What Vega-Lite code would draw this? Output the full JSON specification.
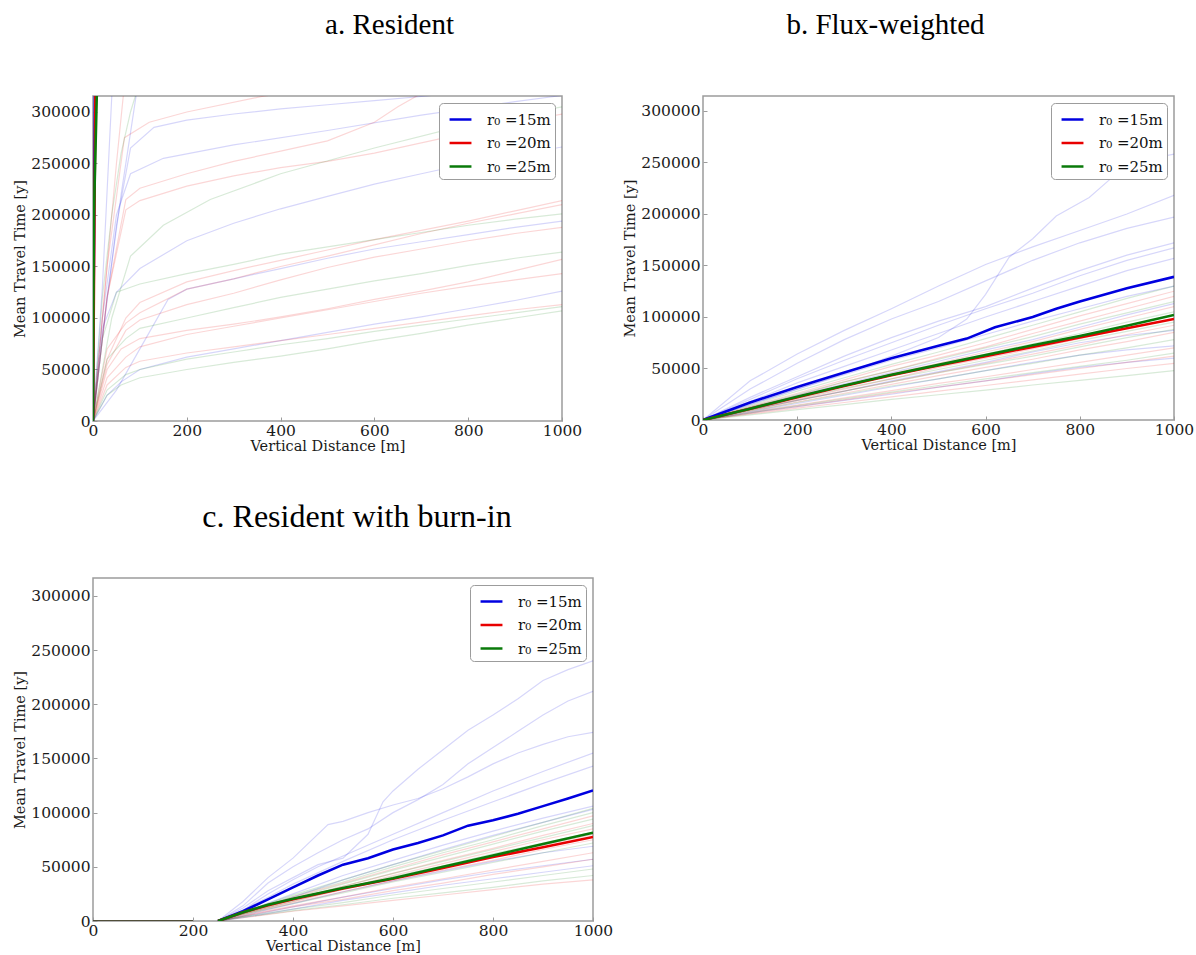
{
  "$schema": "https://vega.github.io/schema/vega-lite/v6.json",
  "background": "white",
  "padding": {"left": 12, "top": 10, "right": 4, "bottom": 5},
  "config": {
    "view": {"stroke": "#9c9c9c", "strokeWidth": 1.5},
    "font": "DejaVu Serif",
    "axis": {
      "grid": false, "domain": false, "ticks": true, "tickSize": -4, "tickColor": "#9c9c9c", "tickWidth": 1,
      "labelFont": "DejaVu Serif", "labelFontSize": 15.5, "labelColor": "#1a1a1a",
      "titleFont": "DejaVu Serif", "titleFontSize": 14.5, "titleFontWeight": "normal", "titleColor": "#1a1a1a",
      "labelFlush": false, "labelOverlap": false
    },
    "axisX": {"labelPadding": 6, "titlePadding": 1},
    "axisY": {"labelPadding": 7, "titlePadding": 3},
    "legend": {
      "orient": "top-right", "offset": 7,
      "symbolType": "stroke", "symbolSize": 480, "symbolStrokeWidth": 2.5, "symbolOpacity": 1, "symbolOffset": 5,
      "labelFont": "DejaVu Serif", "labelFontSize": 15, "labelColor": "#111111",
      "strokeColor": "#9c9c9c", "fillColor": "white", "padding": 4, "cornerRadius": 4,
      "rowPadding": 2.5, "labelOffset": 14
    },
    "title": {"font": "Liberation Serif", "fontWeight": "normal", "color": "#000000", "anchor": "middle", "frame": "group", "baseline": "alphabetic"}
  },
  "datasets": {
    "resident": [
      {"r":15,"i":0,"x":0,"t":0},{"r":15,"i":0,"x":1,"t":100000},{"r":15,"i":0,"x":2.5,"t":200000},{"r":15,"i":0,"x":4,"t":315000},{"r":15,"i":0,"x":8,"t":600000},
      {"r":20,"i":0,"x":0,"t":0},{"r":20,"i":0,"x":1.5,"t":100000},{"r":20,"i":0,"x":3,"t":200000},{"r":20,"i":0,"x":5,"t":315000},{"r":20,"i":0,"x":10,"t":600000},
      {"r":25,"i":0,"x":0,"t":0},{"r":25,"i":0,"x":0.7,"t":100000},{"r":25,"i":0,"x":2,"t":200000},{"r":25,"i":0,"x":8,"t":315000},{"r":25,"i":0,"x":15,"t":560000},

      {"r":15,"i":1,"x":0,"t":0},{"r":15,"i":1,"x":20,"t":130000},{"r":15,"i":1,"x":40,"t":315000},{"r":15,"i":1,"x":60,"t":480000},
      {"r":15,"i":2,"x":0,"t":0},{"r":15,"i":2,"x":30,"t":120000},{"r":15,"i":2,"x":60,"t":220000},{"r":15,"i":2,"x":90,"t":310000},{"r":15,"i":2,"x":120,"t":400000},
      {"r":15,"i":3,"x":0,"t":0},{"r":15,"i":3,"x":20,"t":80000},{"r":15,"i":3,"x":50,"t":190000},{"r":15,"i":3,"x":80,"t":265000},{"r":15,"i":3,"x":130,"t":285000},{"r":15,"i":3,"x":200,"t":292000},{"r":15,"i":3,"x":300,"t":298000},{"r":15,"i":3,"x":400,"t":303000},{"r":15,"i":3,"x":500,"t":307000},{"r":15,"i":3,"x":600,"t":311000},{"r":15,"i":3,"x":700,"t":315000},{"r":15,"i":3,"x":800,"t":320000},
      {"r":15,"i":4,"x":0,"t":0},{"r":15,"i":4,"x":20,"t":90000},{"r":15,"i":4,"x":50,"t":125000},{"r":15,"i":4,"x":100,"t":148000},{"r":15,"i":4,"x":200,"t":175000},{"r":15,"i":4,"x":300,"t":192000},{"r":15,"i":4,"x":400,"t":206000},{"r":15,"i":4,"x":500,"t":218000},{"r":15,"i":4,"x":600,"t":230000},{"r":15,"i":4,"x":700,"t":240000},{"r":15,"i":4,"x":800,"t":250000},{"r":15,"i":4,"x":900,"t":258000},{"r":15,"i":4,"x":1000,"t":266000},
      {"r":15,"i":5,"x":0,"t":0},{"r":15,"i":5,"x":50,"t":30000},{"r":15,"i":5,"x":100,"t":70000},{"r":15,"i":5,"x":160,"t":118000},{"r":15,"i":5,"x":200,"t":128000},{"r":15,"i":5,"x":300,"t":138000},{"r":15,"i":5,"x":400,"t":148000},{"r":15,"i":5,"x":500,"t":158000},{"r":15,"i":5,"x":600,"t":167000},{"r":15,"i":5,"x":700,"t":174000},{"r":15,"i":5,"x":800,"t":181000},{"r":15,"i":5,"x":900,"t":188000},{"r":15,"i":5,"x":1000,"t":194000},
      {"r":15,"i":6,"x":0,"t":0},{"r":15,"i":6,"x":30,"t":25000},{"r":15,"i":6,"x":60,"t":38000},{"r":15,"i":6,"x":100,"t":50000},{"r":15,"i":6,"x":200,"t":62000},{"r":15,"i":6,"x":300,"t":70000},{"r":15,"i":6,"x":400,"t":78000},{"r":15,"i":6,"x":500,"t":86000},{"r":15,"i":6,"x":600,"t":94000},{"r":15,"i":6,"x":700,"t":101000},{"r":15,"i":6,"x":800,"t":109000},{"r":15,"i":6,"x":900,"t":117000},{"r":15,"i":6,"x":1000,"t":126000},
      {"r":15,"i":7,"x":0,"t":0},{"r":15,"i":7,"x":20,"t":100000},{"r":15,"i":7,"x":50,"t":200000},{"r":15,"i":7,"x":80,"t":240000},{"r":15,"i":7,"x":150,"t":255000},{"r":15,"i":7,"x":300,"t":268000},{"r":15,"i":7,"x":500,"t":282000},{"r":15,"i":7,"x":700,"t":297000},{"r":15,"i":7,"x":900,"t":310000},{"r":15,"i":7,"x":1000,"t":316000},

      {"r":20,"i":1,"x":0,"t":0},{"r":20,"i":1,"x":20,"t":100000},{"r":20,"i":1,"x":50,"t":250000},{"r":20,"i":1,"x":70,"t":340000},
      {"r":20,"i":2,"x":0,"t":0},{"r":20,"i":2,"x":30,"t":150000},{"r":20,"i":2,"x":67,"t":275000},{"r":20,"i":2,"x":120,"t":290000},{"r":20,"i":2,"x":200,"t":300000},{"r":20,"i":2,"x":360,"t":315000},{"r":20,"i":2,"x":450,"t":322000},
      {"r":20,"i":3,"x":0,"t":0},{"r":20,"i":3,"x":30,"t":120000},{"r":20,"i":3,"x":70,"t":215000},{"r":20,"i":3,"x":100,"t":226000},{"r":20,"i":3,"x":200,"t":240000},{"r":20,"i":3,"x":300,"t":252000},{"r":20,"i":3,"x":400,"t":262000},{"r":20,"i":3,"x":500,"t":272000},{"r":20,"i":3,"x":600,"t":290000},{"r":20,"i":3,"x":650,"t":305000},{"r":20,"i":3,"x":700,"t":318000},
      {"r":20,"i":4,"x":0,"t":0},{"r":20,"i":4,"x":30,"t":120000},{"r":20,"i":4,"x":70,"t":205000},{"r":20,"i":4,"x":100,"t":214000},{"r":20,"i":4,"x":200,"t":228000},{"r":20,"i":4,"x":300,"t":238000},{"r":20,"i":4,"x":400,"t":246000},{"r":20,"i":4,"x":500,"t":252000},{"r":20,"i":4,"x":600,"t":260000},{"r":20,"i":4,"x":700,"t":270000},{"r":20,"i":4,"x":800,"t":280000},{"r":20,"i":4,"x":900,"t":290000},{"r":20,"i":4,"x":1000,"t":298000},
      {"r":20,"i":5,"x":0,"t":0},{"r":20,"i":5,"x":30,"t":60000},{"r":20,"i":5,"x":70,"t":100000},{"r":20,"i":5,"x":100,"t":115000},{"r":20,"i":5,"x":200,"t":135000},{"r":20,"i":5,"x":300,"t":146000},{"r":20,"i":5,"x":400,"t":156000},{"r":20,"i":5,"x":500,"t":166000},{"r":20,"i":5,"x":600,"t":176000},{"r":20,"i":5,"x":700,"t":185000},{"r":20,"i":5,"x":800,"t":194000},{"r":20,"i":5,"x":900,"t":204000},{"r":20,"i":5,"x":1000,"t":214000},
      {"r":20,"i":6,"x":0,"t":0},{"r":20,"i":6,"x":30,"t":70000},{"r":20,"i":6,"x":70,"t":95000},{"r":20,"i":6,"x":100,"t":105000},{"r":20,"i":6,"x":200,"t":128000},{"r":20,"i":6,"x":300,"t":138000},{"r":20,"i":6,"x":400,"t":150000},{"r":20,"i":6,"x":500,"t":160000},{"r":20,"i":6,"x":600,"t":171000},{"r":20,"i":6,"x":700,"t":182000},{"r":20,"i":6,"x":800,"t":192000},{"r":20,"i":6,"x":900,"t":201000},{"r":20,"i":6,"x":1000,"t":210000},
      {"r":20,"i":7,"x":0,"t":0},{"r":20,"i":7,"x":30,"t":55000},{"r":20,"i":7,"x":70,"t":88000},{"r":20,"i":7,"x":100,"t":98000},{"r":20,"i":7,"x":200,"t":113000},{"r":20,"i":7,"x":300,"t":124000},{"r":20,"i":7,"x":400,"t":137000},{"r":20,"i":7,"x":500,"t":149000},{"r":20,"i":7,"x":600,"t":159000},{"r":20,"i":7,"x":700,"t":167000},{"r":20,"i":7,"x":800,"t":175000},{"r":20,"i":7,"x":900,"t":182000},{"r":20,"i":7,"x":1000,"t":188000},
      {"r":20,"i":8,"x":0,"t":0},{"r":20,"i":8,"x":30,"t":50000},{"r":20,"i":8,"x":60,"t":70000},{"r":20,"i":8,"x":100,"t":80000},{"r":20,"i":8,"x":200,"t":88000},{"r":20,"i":8,"x":300,"t":94000},{"r":20,"i":8,"x":400,"t":101000},{"r":20,"i":8,"x":500,"t":109000},{"r":20,"i":8,"x":600,"t":118000},{"r":20,"i":8,"x":700,"t":126000},{"r":20,"i":8,"x":800,"t":135000},{"r":20,"i":8,"x":900,"t":146000},{"r":20,"i":8,"x":1000,"t":157000},
      {"r":20,"i":9,"x":0,"t":0},{"r":20,"i":9,"x":30,"t":42000},{"r":20,"i":9,"x":70,"t":62000},{"r":20,"i":9,"x":100,"t":72000},{"r":20,"i":9,"x":200,"t":84000},{"r":20,"i":9,"x":300,"t":92000},{"r":20,"i":9,"x":400,"t":100000},{"r":20,"i":9,"x":500,"t":108000},{"r":20,"i":9,"x":600,"t":116000},{"r":20,"i":9,"x":700,"t":124000},{"r":20,"i":9,"x":800,"t":131000},{"r":20,"i":9,"x":900,"t":137000},{"r":20,"i":9,"x":1000,"t":143000},
      {"r":20,"i":10,"x":0,"t":0},{"r":20,"i":10,"x":30,"t":35000},{"r":20,"i":10,"x":70,"t":52000},{"r":20,"i":10,"x":100,"t":58000},{"r":20,"i":10,"x":200,"t":66000},{"r":20,"i":10,"x":300,"t":72000},{"r":20,"i":10,"x":400,"t":78000},{"r":20,"i":10,"x":500,"t":84000},{"r":20,"i":10,"x":600,"t":90000},{"r":20,"i":10,"x":700,"t":96000},{"r":20,"i":10,"x":800,"t":102000},{"r":20,"i":10,"x":900,"t":108000},{"r":20,"i":10,"x":1000,"t":113000},

      {"r":25,"i":1,"x":0,"t":0},{"r":25,"i":1,"x":20,"t":80000},{"r":25,"i":1,"x":50,"t":125000},{"r":25,"i":1,"x":100,"t":133000},{"r":25,"i":1,"x":200,"t":143000},{"r":25,"i":1,"x":300,"t":152000},{"r":25,"i":1,"x":400,"t":162000},{"r":25,"i":1,"x":500,"t":169000},{"r":25,"i":1,"x":600,"t":176000},{"r":25,"i":1,"x":700,"t":183000},{"r":25,"i":1,"x":800,"t":190000},{"r":25,"i":1,"x":900,"t":196000},{"r":25,"i":1,"x":1000,"t":201000},
      {"r":25,"i":2,"x":0,"t":0},{"r":25,"i":2,"x":30,"t":60000},{"r":25,"i":2,"x":70,"t":80000},{"r":25,"i":2,"x":100,"t":90000},{"r":25,"i":2,"x":200,"t":100000},{"r":25,"i":2,"x":300,"t":110000},{"r":25,"i":2,"x":400,"t":120000},{"r":25,"i":2,"x":500,"t":128000},{"r":25,"i":2,"x":600,"t":136000},{"r":25,"i":2,"x":700,"t":143000},{"r":25,"i":2,"x":800,"t":151000},{"r":25,"i":2,"x":900,"t":158000},{"r":25,"i":2,"x":1000,"t":164000},
      {"r":25,"i":3,"x":0,"t":0},{"r":25,"i":3,"x":30,"t":25000},{"r":25,"i":3,"x":60,"t":35000},{"r":25,"i":3,"x":100,"t":42000},{"r":25,"i":3,"x":200,"t":50000},{"r":25,"i":3,"x":300,"t":57000},{"r":25,"i":3,"x":400,"t":63000},{"r":25,"i":3,"x":500,"t":70000},{"r":25,"i":3,"x":600,"t":78000},{"r":25,"i":3,"x":700,"t":85000},{"r":25,"i":3,"x":800,"t":93000},{"r":25,"i":3,"x":900,"t":100000},{"r":25,"i":3,"x":1000,"t":107000},
      {"r":25,"i":4,"x":0,"t":0},{"r":25,"i":4,"x":30,"t":30000},{"r":25,"i":4,"x":70,"t":45000},{"r":25,"i":4,"x":100,"t":50000},{"r":25,"i":4,"x":200,"t":60000},{"r":25,"i":4,"x":300,"t":67000},{"r":25,"i":4,"x":400,"t":74000},{"r":25,"i":4,"x":500,"t":80000},{"r":25,"i":4,"x":600,"t":87000},{"r":25,"i":4,"x":700,"t":93000},{"r":25,"i":4,"x":800,"t":99000},{"r":25,"i":4,"x":900,"t":105000},{"r":25,"i":4,"x":1000,"t":111000},
      {"r":25,"i":5,"x":0,"t":0},{"r":25,"i":5,"x":20,"t":120000},{"r":25,"i":5,"x":40,"t":200000},{"r":25,"i":5,"x":60,"t":260000},{"r":25,"i":5,"x":80,"t":300000},{"r":25,"i":5,"x":100,"t":330000},
      {"r":25,"i":6,"x":0,"t":0},{"r":25,"i":6,"x":40,"t":100000},{"r":25,"i":6,"x":80,"t":160000},{"r":25,"i":6,"x":150,"t":190000},{"r":25,"i":6,"x":250,"t":215000},{"r":25,"i":6,"x":400,"t":240000},{"r":25,"i":6,"x":600,"t":265000},{"r":25,"i":6,"x":800,"t":288000},{"r":25,"i":6,"x":1000,"t":305000}
    ],
    "flux": [
      {"r":15,"i":0,"x":0,"t":0},{"r":15,"i":0,"x":100,"t":17000},{"r":15,"i":0,"x":200,"t":32000},{"r":15,"i":0,"x":300,"t":46000},{"r":15,"i":0,"x":400,"t":60000},{"r":15,"i":0,"x":500,"t":72000},{"r":15,"i":0,"x":560,"t":79000},{"r":15,"i":0,"x":620,"t":90000},{"r":15,"i":0,"x":700,"t":100000},{"r":15,"i":0,"x":750,"t":108000},{"r":15,"i":0,"x":800,"t":115000},{"r":15,"i":0,"x":900,"t":128000},{"r":15,"i":0,"x":1000,"t":139000},
      {"r":20,"i":0,"x":0,"t":0},{"r":20,"i":0,"x":100,"t":11000},{"r":20,"i":0,"x":200,"t":22000},{"r":20,"i":0,"x":300,"t":33000},{"r":20,"i":0,"x":400,"t":43500},{"r":20,"i":0,"x":500,"t":53000},{"r":20,"i":0,"x":600,"t":62000},{"r":20,"i":0,"x":700,"t":71000},{"r":20,"i":0,"x":800,"t":80000},{"r":20,"i":0,"x":900,"t":89000},{"r":20,"i":0,"x":1000,"t":98000},
      {"r":25,"i":0,"x":0,"t":0},{"r":25,"i":0,"x":100,"t":11000},{"r":25,"i":0,"x":200,"t":22500},{"r":25,"i":0,"x":300,"t":33500},{"r":25,"i":0,"x":400,"t":44000},{"r":25,"i":0,"x":500,"t":53500},{"r":25,"i":0,"x":600,"t":63000},{"r":25,"i":0,"x":700,"t":72500},{"r":25,"i":0,"x":800,"t":81500},{"r":25,"i":0,"x":900,"t":91500},{"r":25,"i":0,"x":1000,"t":102000},

      {"r":15,"i":1,"x":0,"t":0},{"r":15,"i":1,"x":100,"t":15000},{"r":15,"i":1,"x":200,"t":30000},{"r":15,"i":1,"x":300,"t":45000},{"r":15,"i":1,"x":400,"t":62000},{"r":15,"i":1,"x":500,"t":80000},{"r":15,"i":1,"x":560,"t":98000},{"r":15,"i":1,"x":600,"t":122000},{"r":15,"i":1,"x":650,"t":158000},{"r":15,"i":1,"x":700,"t":176000},{"r":15,"i":1,"x":750,"t":198000},{"r":15,"i":1,"x":820,"t":216000},{"r":15,"i":1,"x":870,"t":236000},{"r":15,"i":1,"x":900,"t":249000},{"r":15,"i":1,"x":1000,"t":258000},
      {"r":15,"i":2,"x":0,"t":0},{"r":15,"i":2,"x":100,"t":38000},{"r":15,"i":2,"x":200,"t":64000},{"r":15,"i":2,"x":300,"t":87000},{"r":15,"i":2,"x":400,"t":108000},{"r":15,"i":2,"x":500,"t":130000},{"r":15,"i":2,"x":600,"t":151000},{"r":15,"i":2,"x":700,"t":168000},{"r":15,"i":2,"x":800,"t":184000},{"r":15,"i":2,"x":900,"t":200000},{"r":15,"i":2,"x":1000,"t":218000},
      {"r":15,"i":3,"x":0,"t":0},{"r":15,"i":3,"x":100,"t":30000},{"r":15,"i":3,"x":200,"t":55000},{"r":15,"i":3,"x":300,"t":78000},{"r":15,"i":3,"x":400,"t":98000},{"r":15,"i":3,"x":500,"t":115000},{"r":15,"i":3,"x":600,"t":135000},{"r":15,"i":3,"x":700,"t":155000},{"r":15,"i":3,"x":800,"t":172000},{"r":15,"i":3,"x":900,"t":186000},{"r":15,"i":3,"x":1000,"t":197000},
      {"r":15,"i":4,"x":0,"t":0},{"r":15,"i":4,"x":100,"t":22000},{"r":15,"i":4,"x":200,"t":42000},{"r":15,"i":4,"x":300,"t":62000},{"r":15,"i":4,"x":400,"t":80000},{"r":15,"i":4,"x":500,"t":96000},{"r":15,"i":4,"x":600,"t":110000},{"r":15,"i":4,"x":700,"t":128000},{"r":15,"i":4,"x":800,"t":145000},{"r":15,"i":4,"x":900,"t":160000},{"r":15,"i":4,"x":1000,"t":172000},
      {"r":15,"i":5,"x":0,"t":0},{"r":15,"i":5,"x":100,"t":20000},{"r":15,"i":5,"x":200,"t":40000},{"r":15,"i":5,"x":300,"t":58000},{"r":15,"i":5,"x":400,"t":75000},{"r":15,"i":5,"x":500,"t":92000},{"r":15,"i":5,"x":600,"t":108000},{"r":15,"i":5,"x":700,"t":123000},{"r":15,"i":5,"x":800,"t":140000},{"r":15,"i":5,"x":900,"t":155000},{"r":15,"i":5,"x":1000,"t":167000},
      {"r":15,"i":6,"x":0,"t":0},{"r":15,"i":6,"x":100,"t":18000},{"r":15,"i":6,"x":200,"t":36000},{"r":15,"i":6,"x":300,"t":52000},{"r":15,"i":6,"x":400,"t":68000},{"r":15,"i":6,"x":500,"t":84000},{"r":15,"i":6,"x":600,"t":100000},{"r":15,"i":6,"x":700,"t":115000},{"r":15,"i":6,"x":800,"t":130000},{"r":15,"i":6,"x":900,"t":145000},{"r":15,"i":6,"x":1000,"t":157000},
      {"r":15,"i":7,"x":0,"t":0},{"r":15,"i":7,"x":100,"t":15000},{"r":15,"i":7,"x":200,"t":30000},{"r":15,"i":7,"x":300,"t":44000},{"r":15,"i":7,"x":400,"t":58000},{"r":15,"i":7,"x":500,"t":70000},{"r":15,"i":7,"x":600,"t":83000},{"r":15,"i":7,"x":700,"t":96000},{"r":15,"i":7,"x":800,"t":108000},{"r":15,"i":7,"x":900,"t":120000},{"r":15,"i":7,"x":1000,"t":130000},
      {"r":15,"i":8,"x":0,"t":0},{"r":15,"i":8,"x":100,"t":12000},{"r":15,"i":8,"x":200,"t":24000},{"r":15,"i":8,"x":300,"t":35000},{"r":15,"i":8,"x":400,"t":46000},{"r":15,"i":8,"x":500,"t":57000},{"r":15,"i":8,"x":600,"t":68000},{"r":15,"i":8,"x":700,"t":78000},{"r":15,"i":8,"x":800,"t":90000},{"r":15,"i":8,"x":900,"t":102000},{"r":15,"i":8,"x":1000,"t":113000},
      {"r":15,"i":9,"x":0,"t":0},{"r":15,"i":9,"x":100,"t":10000},{"r":15,"i":9,"x":200,"t":19000},{"r":15,"i":9,"x":300,"t":28000},{"r":15,"i":9,"x":400,"t":38000},{"r":15,"i":9,"x":500,"t":47000},{"r":15,"i":9,"x":600,"t":56000},{"r":15,"i":9,"x":700,"t":66000},{"r":15,"i":9,"x":800,"t":75000},{"r":15,"i":9,"x":900,"t":82000},{"r":15,"i":9,"x":1000,"t":87000},
      {"r":15,"i":10,"x":0,"t":0},{"r":15,"i":10,"x":100,"t":8000},{"r":15,"i":10,"x":200,"t":16000},{"r":15,"i":10,"x":300,"t":24000},{"r":15,"i":10,"x":400,"t":32000},{"r":15,"i":10,"x":500,"t":40000},{"r":15,"i":10,"x":600,"t":48000},{"r":15,"i":10,"x":700,"t":56000},{"r":15,"i":10,"x":800,"t":63000},{"r":15,"i":10,"x":900,"t":68000},{"r":15,"i":10,"x":1000,"t":72000},
      {"r":15,"i":11,"x":0,"t":0},{"r":15,"i":11,"x":100,"t":7000},{"r":15,"i":11,"x":200,"t":13000},{"r":15,"i":11,"x":300,"t":19000},{"r":15,"i":11,"x":400,"t":25000},{"r":15,"i":11,"x":500,"t":32000},{"r":15,"i":11,"x":600,"t":38000},{"r":15,"i":11,"x":700,"t":45000},{"r":15,"i":11,"x":800,"t":51000},{"r":15,"i":11,"x":900,"t":56000},{"r":15,"i":11,"x":1000,"t":60000},

      {"r":20,"i":1,"x":0,"t":0},{"r":20,"i":1,"x":100,"t":13000},{"r":20,"i":1,"x":200,"t":26000},{"r":20,"i":1,"x":300,"t":39000},{"r":20,"i":1,"x":400,"t":52000},{"r":20,"i":1,"x":500,"t":63000},{"r":20,"i":1,"x":600,"t":75000},{"r":20,"i":1,"x":700,"t":88000},{"r":20,"i":1,"x":800,"t":101000},{"r":20,"i":1,"x":900,"t":113000},{"r":20,"i":1,"x":1000,"t":125000},
      {"r":20,"i":2,"x":0,"t":0},{"r":20,"i":2,"x":100,"t":12000},{"r":20,"i":2,"x":200,"t":24000},{"r":20,"i":2,"x":300,"t":37000},{"r":20,"i":2,"x":400,"t":48000},{"r":20,"i":2,"x":500,"t":60000},{"r":20,"i":2,"x":600,"t":71000},{"r":20,"i":2,"x":700,"t":84000},{"r":20,"i":2,"x":800,"t":96000},{"r":20,"i":2,"x":900,"t":108000},{"r":20,"i":2,"x":1000,"t":120000},
      {"r":20,"i":3,"x":0,"t":0},{"r":20,"i":3,"x":100,"t":11000},{"r":20,"i":3,"x":200,"t":22000},{"r":20,"i":3,"x":300,"t":33000},{"r":20,"i":3,"x":400,"t":45000},{"r":20,"i":3,"x":500,"t":55000},{"r":20,"i":3,"x":600,"t":66000},{"r":20,"i":3,"x":700,"t":76000},{"r":20,"i":3,"x":800,"t":88000},{"r":20,"i":3,"x":900,"t":99000},{"r":20,"i":3,"x":1000,"t":110000},
      {"r":20,"i":4,"x":0,"t":0},{"r":20,"i":4,"x":100,"t":10000},{"r":20,"i":4,"x":200,"t":20000},{"r":20,"i":4,"x":300,"t":30000},{"r":20,"i":4,"x":400,"t":40000},{"r":20,"i":4,"x":500,"t":51000},{"r":20,"i":4,"x":600,"t":60000},{"r":20,"i":4,"x":700,"t":69000},{"r":20,"i":4,"x":800,"t":79000},{"r":20,"i":4,"x":900,"t":89000},{"r":20,"i":4,"x":1000,"t":98000},
      {"r":20,"i":5,"x":0,"t":0},{"r":20,"i":5,"x":100,"t":9500},{"r":20,"i":5,"x":200,"t":19000},{"r":20,"i":5,"x":300,"t":28000},{"r":20,"i":5,"x":400,"t":37000},{"r":20,"i":5,"x":500,"t":46000},{"r":20,"i":5,"x":600,"t":55000},{"r":20,"i":5,"x":700,"t":64000},{"r":20,"i":5,"x":800,"t":73000},{"r":20,"i":5,"x":900,"t":83000},{"r":20,"i":5,"x":1000,"t":92000},
      {"r":20,"i":6,"x":0,"t":0},{"r":20,"i":6,"x":100,"t":9000},{"r":20,"i":6,"x":200,"t":17500},{"r":20,"i":6,"x":300,"t":26000},{"r":20,"i":6,"x":400,"t":34500},{"r":20,"i":6,"x":500,"t":43000},{"r":20,"i":6,"x":600,"t":51000},{"r":20,"i":6,"x":700,"t":59000},{"r":20,"i":6,"x":800,"t":68000},{"r":20,"i":6,"x":900,"t":76000},{"r":20,"i":6,"x":1000,"t":85000},
      {"r":20,"i":7,"x":0,"t":0},{"r":20,"i":7,"x":100,"t":7500},{"r":20,"i":7,"x":200,"t":14500},{"r":20,"i":7,"x":300,"t":21500},{"r":20,"i":7,"x":400,"t":28500},{"r":20,"i":7,"x":500,"t":35500},{"r":20,"i":7,"x":600,"t":42000},{"r":20,"i":7,"x":700,"t":49000},{"r":20,"i":7,"x":800,"t":56000},{"r":20,"i":7,"x":900,"t":63000},{"r":20,"i":7,"x":1000,"t":70000},
      {"r":20,"i":8,"x":0,"t":0},{"r":20,"i":8,"x":100,"t":6500},{"r":20,"i":8,"x":200,"t":13000},{"r":20,"i":8,"x":300,"t":19500},{"r":20,"i":8,"x":400,"t":26000},{"r":20,"i":8,"x":500,"t":32000},{"r":20,"i":8,"x":600,"t":38000},{"r":20,"i":8,"x":700,"t":44000},{"r":20,"i":8,"x":800,"t":50000},{"r":20,"i":8,"x":900,"t":56000},{"r":20,"i":8,"x":1000,"t":62000},
      {"r":20,"i":9,"x":0,"t":0},{"r":20,"i":9,"x":100,"t":5800},{"r":20,"i":9,"x":200,"t":11500},{"r":20,"i":9,"x":300,"t":17000},{"r":20,"i":9,"x":400,"t":22500},{"r":20,"i":9,"x":500,"t":28000},{"r":20,"i":9,"x":600,"t":33500},{"r":20,"i":9,"x":700,"t":39000},{"r":20,"i":9,"x":800,"t":44500},{"r":20,"i":9,"x":900,"t":50000},{"r":20,"i":9,"x":1000,"t":55000},

      {"r":25,"i":1,"x":0,"t":0},{"r":25,"i":1,"x":100,"t":14000},{"r":25,"i":1,"x":200,"t":28000},{"r":25,"i":1,"x":300,"t":41000},{"r":25,"i":1,"x":400,"t":54000},{"r":25,"i":1,"x":500,"t":66000},{"r":25,"i":1,"x":600,"t":79000},{"r":25,"i":1,"x":700,"t":92000},{"r":25,"i":1,"x":800,"t":105000},{"r":25,"i":1,"x":900,"t":118000},{"r":25,"i":1,"x":1000,"t":130000},
      {"r":25,"i":2,"x":0,"t":0},{"r":25,"i":2,"x":100,"t":12500},{"r":25,"i":2,"x":200,"t":25000},{"r":25,"i":2,"x":300,"t":37000},{"r":25,"i":2,"x":400,"t":48000},{"r":25,"i":2,"x":500,"t":59000},{"r":25,"i":2,"x":600,"t":70000},{"r":25,"i":2,"x":700,"t":81000},{"r":25,"i":2,"x":800,"t":93000},{"r":25,"i":2,"x":900,"t":104000},{"r":25,"i":2,"x":1000,"t":115000},
      {"r":25,"i":3,"x":0,"t":0},{"r":25,"i":3,"x":100,"t":11500},{"r":25,"i":3,"x":200,"t":23000},{"r":25,"i":3,"x":300,"t":34000},{"r":25,"i":3,"x":400,"t":44000},{"r":25,"i":3,"x":500,"t":54000},{"r":25,"i":3,"x":600,"t":64000},{"r":25,"i":3,"x":700,"t":74000},{"r":25,"i":3,"x":800,"t":84000},{"r":25,"i":3,"x":900,"t":95000},{"r":25,"i":3,"x":1000,"t":105000},
      {"r":25,"i":4,"x":0,"t":0},{"r":25,"i":4,"x":100,"t":10500},{"r":25,"i":4,"x":200,"t":21000},{"r":25,"i":4,"x":300,"t":31000},{"r":25,"i":4,"x":400,"t":40000},{"r":25,"i":4,"x":500,"t":49000},{"r":25,"i":4,"x":600,"t":58000},{"r":25,"i":4,"x":700,"t":67000},{"r":25,"i":4,"x":800,"t":77000},{"r":25,"i":4,"x":900,"t":86000},{"r":25,"i":4,"x":1000,"t":95000},
      {"r":25,"i":5,"x":0,"t":0},{"r":25,"i":5,"x":100,"t":9500},{"r":25,"i":5,"x":200,"t":19000},{"r":25,"i":5,"x":300,"t":28000},{"r":25,"i":5,"x":400,"t":37000},{"r":25,"i":5,"x":500,"t":46000},{"r":25,"i":5,"x":600,"t":54000},{"r":25,"i":5,"x":700,"t":62000},{"r":25,"i":5,"x":800,"t":71000},{"r":25,"i":5,"x":900,"t":80000},{"r":25,"i":5,"x":1000,"t":88000},
      {"r":25,"i":6,"x":0,"t":0},{"r":25,"i":6,"x":100,"t":8500},{"r":25,"i":6,"x":200,"t":17000},{"r":25,"i":6,"x":300,"t":25000},{"r":25,"i":6,"x":400,"t":33000},{"r":25,"i":6,"x":500,"t":40000},{"r":25,"i":6,"x":600,"t":48000},{"r":25,"i":6,"x":700,"t":55000},{"r":25,"i":6,"x":800,"t":63000},{"r":25,"i":6,"x":900,"t":70000},{"r":25,"i":6,"x":1000,"t":78000},
      {"r":25,"i":7,"x":0,"t":0},{"r":25,"i":7,"x":100,"t":7000},{"r":25,"i":7,"x":200,"t":14000},{"r":25,"i":7,"x":300,"t":20500},{"r":25,"i":7,"x":400,"t":27000},{"r":25,"i":7,"x":500,"t":33500},{"r":25,"i":7,"x":600,"t":40000},{"r":25,"i":7,"x":700,"t":46000},{"r":25,"i":7,"x":800,"t":52000},{"r":25,"i":7,"x":900,"t":58000},{"r":25,"i":7,"x":1000,"t":65000},
      {"r":25,"i":8,"x":0,"t":0},{"r":25,"i":8,"x":100,"t":5000},{"r":25,"i":8,"x":200,"t":10000},{"r":25,"i":8,"x":300,"t":15000},{"r":25,"i":8,"x":400,"t":20000},{"r":25,"i":8,"x":500,"t":24500},{"r":25,"i":8,"x":600,"t":29000},{"r":25,"i":8,"x":700,"t":34000},{"r":25,"i":8,"x":800,"t":38500},{"r":25,"i":8,"x":900,"t":43000},{"r":25,"i":8,"x":1000,"t":48000}
    ],
    "burnin": [
      {"r":15,"i":0,"x":250,"t":0},{"r":15,"i":0,"x":300,"t":9000},{"r":15,"i":0,"x":350,"t":20000},{"r":15,"i":0,"x":400,"t":31000},{"r":15,"i":0,"x":450,"t":42000},{"r":15,"i":0,"x":500,"t":52000},{"r":15,"i":0,"x":550,"t":58000},{"r":15,"i":0,"x":600,"t":66000},{"r":15,"i":0,"x":650,"t":72000},{"r":15,"i":0,"x":700,"t":79000},{"r":15,"i":0,"x":750,"t":88000},{"r":15,"i":0,"x":800,"t":93000},{"r":15,"i":0,"x":850,"t":99000},{"r":15,"i":0,"x":900,"t":106000},{"r":15,"i":0,"x":950,"t":113000},{"r":15,"i":0,"x":1000,"t":120500},
      {"r":20,"i":0,"x":250,"t":0},{"r":20,"i":0,"x":300,"t":8000},{"r":20,"i":0,"x":350,"t":14500},{"r":20,"i":0,"x":400,"t":20000},{"r":20,"i":0,"x":500,"t":30000},{"r":20,"i":0,"x":600,"t":39000},{"r":20,"i":0,"x":700,"t":49000},{"r":20,"i":0,"x":800,"t":59000},{"r":20,"i":0,"x":900,"t":68000},{"r":20,"i":0,"x":1000,"t":77500},
      {"r":25,"i":0,"x":250,"t":0},{"r":25,"i":0,"x":300,"t":8000},{"r":25,"i":0,"x":350,"t":15000},{"r":25,"i":0,"x":400,"t":20500},{"r":25,"i":0,"x":500,"t":30500},{"r":25,"i":0,"x":600,"t":39500},{"r":25,"i":0,"x":700,"t":50000},{"r":25,"i":0,"x":800,"t":60500},{"r":25,"i":0,"x":900,"t":71000},{"r":25,"i":0,"x":1000,"t":81500},

      {"r":15,"i":101,"x":0,"t":0},{"r":15,"i":101,"x":200,"t":0},{"r":15,"i":102,"x":0,"t":0},{"r":15,"i":102,"x":200,"t":0},
      {"r":15,"i":103,"x":0,"t":0},{"r":15,"i":103,"x":200,"t":0},{"r":15,"i":104,"x":0,"t":0},{"r":15,"i":104,"x":200,"t":0},
      {"r":15,"i":105,"x":0,"t":0},{"r":15,"i":105,"x":200,"t":0},{"r":15,"i":106,"x":0,"t":0},{"r":15,"i":106,"x":200,"t":0},
      {"r":15,"i":107,"x":0,"t":0},{"r":15,"i":107,"x":200,"t":0},{"r":15,"i":108,"x":0,"t":0},{"r":15,"i":108,"x":200,"t":0},
      {"r":15,"i":109,"x":0,"t":0},{"r":15,"i":109,"x":200,"t":0},{"r":15,"i":110,"x":0,"t":0},{"r":15,"i":110,"x":200,"t":0},
      {"r":20,"i":101,"x":0,"t":0},{"r":20,"i":101,"x":200,"t":0},{"r":20,"i":102,"x":0,"t":0},{"r":20,"i":102,"x":200,"t":0},
      {"r":20,"i":103,"x":0,"t":0},{"r":20,"i":103,"x":200,"t":0},{"r":20,"i":104,"x":0,"t":0},{"r":20,"i":104,"x":200,"t":0},
      {"r":20,"i":105,"x":0,"t":0},{"r":20,"i":105,"x":200,"t":0},{"r":20,"i":106,"x":0,"t":0},{"r":20,"i":106,"x":200,"t":0},
      {"r":20,"i":107,"x":0,"t":0},{"r":20,"i":107,"x":200,"t":0},{"r":20,"i":108,"x":0,"t":0},{"r":20,"i":108,"x":200,"t":0},
      {"r":25,"i":101,"x":0,"t":0},{"r":25,"i":101,"x":200,"t":0},{"r":25,"i":102,"x":0,"t":0},{"r":25,"i":102,"x":200,"t":0},
      {"r":25,"i":103,"x":0,"t":0},{"r":25,"i":103,"x":200,"t":0},{"r":25,"i":104,"x":0,"t":0},{"r":25,"i":104,"x":200,"t":0},
      {"r":25,"i":105,"x":0,"t":0},{"r":25,"i":105,"x":200,"t":0},{"r":25,"i":106,"x":0,"t":0},{"r":25,"i":106,"x":200,"t":0},
      {"r":25,"i":107,"x":0,"t":0},{"r":25,"i":107,"x":200,"t":0},{"r":25,"i":108,"x":0,"t":0},{"r":25,"i":108,"x":200,"t":0},

      {"r":15,"i":1,"x":250,"t":0},{"r":15,"i":1,"x":300,"t":18000},{"r":15,"i":1,"x":350,"t":40000},{"r":15,"i":1,"x":400,"t":58000},{"r":15,"i":1,"x":470,"t":89000},{"r":15,"i":1,"x":500,"t":92000},{"r":15,"i":1,"x":550,"t":100000},{"r":15,"i":1,"x":600,"t":107000},{"r":15,"i":1,"x":650,"t":113000},{"r":15,"i":1,"x":700,"t":122000},{"r":15,"i":1,"x":750,"t":133000},{"r":15,"i":1,"x":800,"t":145000},{"r":15,"i":1,"x":850,"t":155000},{"r":15,"i":1,"x":900,"t":163000},{"r":15,"i":1,"x":950,"t":170000},{"r":15,"i":1,"x":1000,"t":174000},
      {"r":15,"i":2,"x":250,"t":0},{"r":15,"i":2,"x":300,"t":12000},{"r":15,"i":2,"x":350,"t":28000},{"r":15,"i":2,"x":400,"t":40000},{"r":15,"i":2,"x":450,"t":52000},{"r":15,"i":2,"x":500,"t":58000},{"r":15,"i":2,"x":550,"t":80000},{"r":15,"i":2,"x":580,"t":110000},{"r":15,"i":2,"x":600,"t":120000},{"r":15,"i":2,"x":650,"t":140000},{"r":15,"i":2,"x":700,"t":158000},{"r":15,"i":2,"x":750,"t":176000},{"r":15,"i":2,"x":800,"t":190000},{"r":15,"i":2,"x":850,"t":205000},{"r":15,"i":2,"x":900,"t":222000},{"r":15,"i":2,"x":950,"t":232000},{"r":15,"i":2,"x":1000,"t":240000},
      {"r":15,"i":3,"x":250,"t":0},{"r":15,"i":3,"x":300,"t":14000},{"r":15,"i":3,"x":350,"t":35000},{"r":15,"i":3,"x":400,"t":50000},{"r":15,"i":3,"x":450,"t":63000},{"r":15,"i":3,"x":500,"t":75000},{"r":15,"i":3,"x":550,"t":85000},{"r":15,"i":3,"x":600,"t":100000},{"r":15,"i":3,"x":650,"t":112000},{"r":15,"i":3,"x":700,"t":126000},{"r":15,"i":3,"x":750,"t":145000},{"r":15,"i":3,"x":800,"t":160000},{"r":15,"i":3,"x":850,"t":175000},{"r":15,"i":3,"x":900,"t":190000},{"r":15,"i":3,"x":950,"t":203000},{"r":15,"i":3,"x":1000,"t":212000},
      {"r":15,"i":4,"x":250,"t":0},{"r":15,"i":4,"x":300,"t":10000},{"r":15,"i":4,"x":350,"t":25000},{"r":15,"i":4,"x":400,"t":38000},{"r":15,"i":4,"x":450,"t":50000},{"r":15,"i":4,"x":500,"t":60000},{"r":15,"i":4,"x":600,"t":80000},{"r":15,"i":4,"x":700,"t":100000},{"r":15,"i":4,"x":800,"t":120000},{"r":15,"i":4,"x":900,"t":138000},{"r":15,"i":4,"x":1000,"t":155000},
      {"r":15,"i":5,"x":250,"t":0},{"r":15,"i":5,"x":300,"t":10000},{"r":15,"i":5,"x":350,"t":22000},{"r":15,"i":5,"x":400,"t":34000},{"r":15,"i":5,"x":500,"t":55000},{"r":15,"i":5,"x":600,"t":75000},{"r":15,"i":5,"x":700,"t":93000},{"r":15,"i":5,"x":800,"t":110000},{"r":15,"i":5,"x":900,"t":127000},{"r":15,"i":5,"x":1000,"t":143000},
      {"r":15,"i":6,"x":250,"t":0},{"r":15,"i":6,"x":300,"t":8000},{"r":15,"i":6,"x":400,"t":25000},{"r":15,"i":6,"x":500,"t":42000},{"r":15,"i":6,"x":600,"t":56000},{"r":15,"i":6,"x":700,"t":70000},{"r":15,"i":6,"x":800,"t":83000},{"r":15,"i":6,"x":900,"t":95000},{"r":15,"i":6,"x":1000,"t":106000},
      {"r":15,"i":7,"x":250,"t":0},{"r":15,"i":7,"x":300,"t":7000},{"r":15,"i":7,"x":400,"t":22000},{"r":15,"i":7,"x":500,"t":38000},{"r":15,"i":7,"x":600,"t":52000},{"r":15,"i":7,"x":700,"t":66000},{"r":15,"i":7,"x":800,"t":79000},{"r":15,"i":7,"x":900,"t":91000},{"r":15,"i":7,"x":1000,"t":103000},
      {"r":15,"i":8,"x":250,"t":0},{"r":15,"i":8,"x":300,"t":5000},{"r":15,"i":8,"x":400,"t":16000},{"r":15,"i":8,"x":500,"t":27000},{"r":15,"i":8,"x":600,"t":37000},{"r":15,"i":8,"x":700,"t":46000},{"r":15,"i":8,"x":800,"t":55000},{"r":15,"i":8,"x":900,"t":63000},{"r":15,"i":8,"x":1000,"t":69000},
      {"r":15,"i":9,"x":250,"t":0},{"r":15,"i":9,"x":300,"t":4000},{"r":15,"i":9,"x":400,"t":13000},{"r":15,"i":9,"x":500,"t":22000},{"r":15,"i":9,"x":600,"t":30000},{"r":15,"i":9,"x":700,"t":38000},{"r":15,"i":9,"x":800,"t":45000},{"r":15,"i":9,"x":900,"t":51000},{"r":15,"i":9,"x":1000,"t":57000},
      {"r":15,"i":10,"x":250,"t":0},{"r":15,"i":10,"x":300,"t":3000},{"r":15,"i":10,"x":400,"t":11000},{"r":15,"i":10,"x":500,"t":19000},{"r":15,"i":10,"x":600,"t":26000},{"r":15,"i":10,"x":700,"t":33000},{"r":15,"i":10,"x":800,"t":39000},{"r":15,"i":10,"x":900,"t":45000},{"r":15,"i":10,"x":1000,"t":51000},

      {"r":20,"i":1,"x":250,"t":0},{"r":20,"i":1,"x":300,"t":8000},{"r":20,"i":1,"x":400,"t":22000},{"r":20,"i":1,"x":500,"t":35000},{"r":20,"i":1,"x":600,"t":48000},{"r":20,"i":1,"x":700,"t":61000},{"r":20,"i":1,"x":800,"t":73000},{"r":20,"i":1,"x":900,"t":85000},{"r":20,"i":1,"x":1000,"t":97000},
      {"r":20,"i":2,"x":250,"t":0},{"r":20,"i":2,"x":300,"t":7500},{"r":20,"i":2,"x":400,"t":20000},{"r":20,"i":2,"x":500,"t":32000},{"r":20,"i":2,"x":600,"t":44000},{"r":20,"i":2,"x":700,"t":56000},{"r":20,"i":2,"x":800,"t":67000},{"r":20,"i":2,"x":900,"t":79000},{"r":20,"i":2,"x":1000,"t":90000},
      {"r":20,"i":3,"x":250,"t":0},{"r":20,"i":3,"x":300,"t":7000},{"r":20,"i":3,"x":400,"t":19000},{"r":20,"i":3,"x":500,"t":30000},{"r":20,"i":3,"x":600,"t":42000},{"r":20,"i":3,"x":700,"t":53000},{"r":20,"i":3,"x":800,"t":64000},{"r":20,"i":3,"x":900,"t":75000},{"r":20,"i":3,"x":1000,"t":85000},
      {"r":20,"i":4,"x":250,"t":0},{"r":20,"i":4,"x":300,"t":6500},{"r":20,"i":4,"x":400,"t":18000},{"r":20,"i":4,"x":500,"t":29000},{"r":20,"i":4,"x":600,"t":39000},{"r":20,"i":4,"x":700,"t":50000},{"r":20,"i":4,"x":800,"t":60000},{"r":20,"i":4,"x":900,"t":70000},{"r":20,"i":4,"x":1000,"t":80000},
      {"r":20,"i":5,"x":250,"t":0},{"r":20,"i":5,"x":300,"t":6000},{"r":20,"i":5,"x":400,"t":17000},{"r":20,"i":5,"x":500,"t":27000},{"r":20,"i":5,"x":600,"t":37000},{"r":20,"i":5,"x":700,"t":47000},{"r":20,"i":5,"x":800,"t":56000},{"r":20,"i":5,"x":900,"t":66000},{"r":20,"i":5,"x":1000,"t":75000},
      {"r":20,"i":6,"x":250,"t":0},{"r":20,"i":6,"x":300,"t":5000},{"r":20,"i":6,"x":400,"t":14000},{"r":20,"i":6,"x":500,"t":22000},{"r":20,"i":6,"x":600,"t":31000},{"r":20,"i":6,"x":700,"t":39000},{"r":20,"i":6,"x":800,"t":47000},{"r":20,"i":6,"x":900,"t":55000},{"r":20,"i":6,"x":1000,"t":63000},
      {"r":20,"i":7,"x":250,"t":0},{"r":20,"i":7,"x":300,"t":4500},{"r":20,"i":7,"x":400,"t":13000},{"r":20,"i":7,"x":500,"t":20000},{"r":20,"i":7,"x":600,"t":28000},{"r":20,"i":7,"x":700,"t":35000},{"r":20,"i":7,"x":800,"t":43000},{"r":20,"i":7,"x":900,"t":50000},{"r":20,"i":7,"x":1000,"t":57000},
      {"r":20,"i":8,"x":250,"t":0},{"r":20,"i":8,"x":300,"t":3000},{"r":20,"i":8,"x":400,"t":9000},{"r":20,"i":8,"x":500,"t":14000},{"r":20,"i":8,"x":600,"t":19000},{"r":20,"i":8,"x":700,"t":24000},{"r":20,"i":8,"x":800,"t":29000},{"r":20,"i":8,"x":900,"t":34000},{"r":20,"i":8,"x":1000,"t":38000},

      {"r":25,"i":1,"x":250,"t":0},{"r":25,"i":1,"x":300,"t":8500},{"r":25,"i":1,"x":400,"t":24000},{"r":25,"i":1,"x":500,"t":38000},{"r":25,"i":1,"x":600,"t":52000},{"r":25,"i":1,"x":700,"t":65000},{"r":25,"i":1,"x":800,"t":78000},{"r":25,"i":1,"x":900,"t":91000},{"r":25,"i":1,"x":1000,"t":104000},
      {"r":25,"i":2,"x":250,"t":0},{"r":25,"i":2,"x":300,"t":8000},{"r":25,"i":2,"x":400,"t":23000},{"r":25,"i":2,"x":500,"t":36000},{"r":25,"i":2,"x":600,"t":50000},{"r":25,"i":2,"x":700,"t":63000},{"r":25,"i":2,"x":800,"t":75000},{"r":25,"i":2,"x":900,"t":88000},{"r":25,"i":2,"x":1000,"t":100000},
      {"r":25,"i":3,"x":250,"t":0},{"r":25,"i":3,"x":300,"t":7500},{"r":25,"i":3,"x":400,"t":21000},{"r":25,"i":3,"x":500,"t":34000},{"r":25,"i":3,"x":600,"t":47000},{"r":25,"i":3,"x":700,"t":59000},{"r":25,"i":3,"x":800,"t":71000},{"r":25,"i":3,"x":900,"t":83000},{"r":25,"i":3,"x":1000,"t":94000},
      {"r":25,"i":4,"x":250,"t":0},{"r":25,"i":4,"x":300,"t":7000},{"r":25,"i":4,"x":400,"t":20000},{"r":25,"i":4,"x":500,"t":32000},{"r":25,"i":4,"x":600,"t":44000},{"r":25,"i":4,"x":700,"t":55000},{"r":25,"i":4,"x":800,"t":66000},{"r":25,"i":4,"x":900,"t":77000},{"r":25,"i":4,"x":1000,"t":88000},
      {"r":25,"i":5,"x":250,"t":0},{"r":25,"i":5,"x":300,"t":6500},{"r":25,"i":5,"x":400,"t":18000},{"r":25,"i":5,"x":500,"t":30000},{"r":25,"i":5,"x":600,"t":41000},{"r":25,"i":5,"x":700,"t":51000},{"r":25,"i":5,"x":800,"t":62000},{"r":25,"i":5,"x":900,"t":72000},{"r":25,"i":5,"x":1000,"t":82000},
      {"r":25,"i":6,"x":250,"t":0},{"r":25,"i":6,"x":300,"t":6000},{"r":25,"i":6,"x":400,"t":16000},{"r":25,"i":6,"x":500,"t":26000},{"r":25,"i":6,"x":600,"t":36000},{"r":25,"i":6,"x":700,"t":45000},{"r":25,"i":6,"x":800,"t":54000},{"r":25,"i":6,"x":900,"t":63000},{"r":25,"i":6,"x":1000,"t":72000},
      {"r":25,"i":7,"x":250,"t":0},{"r":25,"i":7,"x":300,"t":4000},{"r":25,"i":7,"x":400,"t":11000},{"r":25,"i":7,"x":500,"t":17000},{"r":25,"i":7,"x":600,"t":24000},{"r":25,"i":7,"x":700,"t":30000},{"r":25,"i":7,"x":800,"t":36000},{"r":25,"i":7,"x":900,"t":42000},{"r":25,"i":7,"x":1000,"t":48000},
      {"r":25,"i":8,"x":250,"t":0},{"r":25,"i":8,"x":300,"t":3500},{"r":25,"i":8,"x":400,"t":9500},{"r":25,"i":8,"x":500,"t":15000},{"r":25,"i":8,"x":600,"t":21000},{"r":25,"i":8,"x":700,"t":26000},{"r":25,"i":8,"x":800,"t":31000},{"r":25,"i":8,"x":900,"t":37000},{"r":25,"i":8,"x":1000,"t":42000}
    ]
  },
  "columns": 2,
  "spacing": {"row": 157, "column": 110},
  "bounds": "flush",
  "align": "each",
  "resolve": {
    "scale": {"color": "independent", "x": "independent", "y": "independent"},
    "legend": {"color": "independent"}
  },
  "concat": [
    {
      "width": 469, "height": 325,
      "title": {"text": "a. Resident", "fontSize": 29, "dx": 62, "offset": 56},
      "data": {"name": "resident"},
      "encoding": {
        "x": {"field": "x", "type": "quantitative", "scale": {"domain": [0, 1000], "nice": false}, "axis": {"values": [0, 200, 400, 600, 800, 1000], "format": "d", "title": "Vertical Distance [m]"}},
        "y": {"field": "t", "type": "quantitative", "scale": {"domain": [0, 315500], "nice": false}, "axis": {"values": [0, 50000, 100000, 150000, 200000, 250000, 300000], "format": "d", "title": "Mean Travel Time [y]"}},
        "color": {"field": "r", "type": "nominal", "scale": {"domain": [15, 20, 25], "range": ["#0000e0", "#e80000", "#0a7a0a"]}, "legend": {"title": null, "labelExpr": "'r₀ =' + datum.label + 'm'"}}
      },
      "layer": [
        {
          "transform": [{"filter": "datum.i > 0"}],
          "mark": {"type": "line", "strokeWidth": 1.2, "opacity": 0.16, "clip": true},
          "encoding": {"detail": {"field": "i", "type": "nominal"}}
        },
        {
          "transform": [{"filter": "datum.i == 0"}],
          "mark": {"type": "line", "strokeWidth": 2.6, "clip": true},
          "encoding": {}
        }
      ]
    },
    {
      "width": 471, "height": 324,
      "title": {"text": "b. Flux-weighted", "fontSize": 29, "dx": -53, "offset": 56},
      "data": {"name": "flux"},
      "encoding": {
        "x": {"field": "x", "type": "quantitative", "scale": {"domain": [0, 1000], "nice": false}, "axis": {"values": [0, 200, 400, 600, 800, 1000], "format": "d", "title": "Vertical Distance [m]"}},
        "y": {"field": "t", "type": "quantitative", "scale": {"domain": [0, 314500], "nice": false}, "axis": {"values": [0, 50000, 100000, 150000, 200000, 250000, 300000], "format": "d", "title": "Mean Travel Time [y]"}},
        "color": {"field": "r", "type": "nominal", "scale": {"domain": [15, 20, 25], "range": ["#0000e0", "#e80000", "#0a7a0a"]}, "legend": {"title": null, "labelExpr": "'r₀ =' + datum.label + 'm'"}}
      },
      "layer": [
        {
          "transform": [{"filter": "datum.i > 0"}],
          "mark": {"type": "line", "strokeWidth": 1.2, "opacity": 0.16, "clip": true},
          "encoding": {"detail": {"field": "i", "type": "nominal"}}
        },
        {
          "transform": [{"filter": "datum.i == 0"}],
          "mark": {"type": "line", "strokeWidth": 2.6, "clip": true},
          "encoding": {}
        }
      ]
    },
    {
      "width": 500, "height": 343,
      "title": {"text": "c. Resident with burn-in", "fontSize": 32, "dx": 14, "offset": 44},
      "data": {"name": "burnin"},
      "encoding": {
        "x": {"field": "x", "type": "quantitative", "scale": {"domain": [0, 1000], "nice": false}, "axis": {"values": [0, 200, 400, 600, 800, 1000], "format": "d", "title": "Vertical Distance [m]"}},
        "y": {"field": "t", "type": "quantitative", "scale": {"domain": [0, 316500], "nice": false}, "axis": {"values": [0, 50000, 100000, 150000, 200000, 250000, 300000], "format": "d", "title": "Mean Travel Time [y]"}},
        "color": {"field": "r", "type": "nominal", "scale": {"domain": [15, 20, 25], "range": ["#0000e0", "#e80000", "#0a7a0a"]}, "legend": {"title": null, "labelExpr": "'r₀ =' + datum.label + 'm'"}}
      },
      "layer": [
        {
          "transform": [{"filter": "datum.i > 0"}],
          "mark": {"type": "line", "strokeWidth": 1.2, "opacity": 0.16, "clip": true},
          "encoding": {"detail": {"field": "i", "type": "nominal"}}
        },
        {
          "transform": [{"filter": "datum.i == 0"}],
          "mark": {"type": "line", "strokeWidth": 2.6, "clip": true},
          "encoding": {}
        }
      ]
    }
  ]
}
